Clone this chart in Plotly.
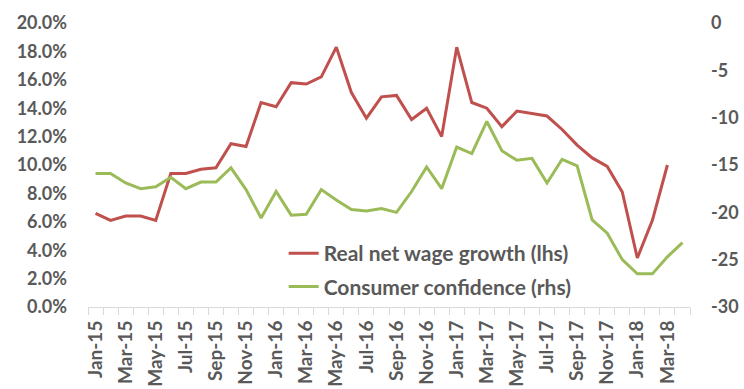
import plotly.graph_objects as go

# Monthly series, Jan-15 .. Apr-18
months = [f"{m}-{y}" for y in ("15", "16", "17", "18")
          for m in ("Jan", "Feb", "Mar", "Apr", "May", "Jun",
                    "Jul", "Aug", "Sep", "Oct", "Nov", "Dec")][:40]

# Real net wage growth, % y/y (left axis)
wage_growth = [6.6, 6.1, 6.4, 6.4, 6.1, 9.4, 9.4, 9.7, 9.8, 11.5,
               11.3, 14.4, 14.1, 15.8, 15.7, 16.2, 18.3, 15.1, 13.3, 14.8,
               14.9, 13.2, 14.0, 12.0, 18.3, 14.4, 14.0, 12.7, 13.8, 13.6,
               13.45, 12.5, 11.4, 10.5, 9.9, 8.1, 3.45, 6.1, 10.0, None]

# Consumer confidence index (right axis)
consumer_conf = [-15.9, -15.9, -16.9, -17.5, -17.3, -16.3, -17.5, -16.8, -16.8, -15.3,
                 -17.6, -20.6, -17.8, -20.3, -20.2, -17.6, -18.7, -19.7, -19.85, -19.6,
                 -20.0, -17.8, -15.2, -17.5, -13.1, -13.8, -10.4, -13.5, -14.5, -14.3,
                 -16.9, -14.4, -15.1, -20.8, -22.2, -25.0, -26.5, -26.5, -24.7, -23.2]

left_ticks = [0, 2, 4, 6, 8, 10, 12, 14, 16, 18, 20]
right_ticks = [0, -5, -10, -15, -20, -25, -30]

idx = list(range(len(months)))
font_color = "#595959"
family = "Lato, Arial, sans-serif"
y_font = dict(family=family, size=18, color=font_color, weight="bold")
x_font = dict(family=family, size=19, color=font_color, weight="bold")

fig = go.Figure()
fig.add_trace(go.Scatter(
    x=idx, y=[v / 100 if v is not None else None for v in wage_growth],
    mode="lines", name="Real net wage growth (lhs)", legendgroup="a",
    line=dict(color="#C0504D", width=3), yaxis="y"))
fig.add_trace(go.Scatter(
    x=idx, y=consumer_conf,
    mode="lines", name="Consumer confidence (rhs)", legendgroup="b",
    line=dict(color="#9BBB59", width=3), yaxis="y2"))

fig.update_layout(
    width=744, height=389,
    margin=dict(l=88, r=54, t=23, b=82),
    paper_bgcolor="white", plot_bgcolor="white",
    showlegend=True,
    legend=dict(x=0.325, y=0.13, xanchor="left", yanchor="middle",
                bgcolor="rgba(0,0,0,0)", tracegroupgap=3, traceorder="grouped",
                font=dict(family=family, size=21, color=font_color, weight="bold")),
    xaxis=dict(
        range=[-0.5, len(months) - 0.5], automargin=False,
        tickmode="array", tickvals=idx[::2], ticktext=months[::2],
        tickangle=-90, ticks="", tickfont=x_font, ticklabelstandoff=5,
        showline=True, linecolor="#D9D9D9", linewidth=1,
        showgrid=False, zeroline=False,
        minor=dict(tickmode="linear", tick0=-0.5, dtick=1, ticks="outside",
                   ticklen=7, tickcolor="#D9D9D9", showgrid=False),
    ),
    yaxis=dict(
        range=[0, 0.2], tickmode="array", automargin=False,
        tickvals=[t / 100 for t in left_ticks],
        ticktext=[f"{t:.1f}%" for t in left_ticks],
        tickfont=y_font, showgrid=False, zeroline=False,
        showline=False, ticks="", ticklabelstandoff=20,
    ),
    yaxis2=dict(
        range=[-30, 0], overlaying="y", side="right", tickmode="array",
        automargin=False,
        tickvals=right_ticks, ticktext=[str(t) for t in right_ticks],
        tickfont=y_font, showgrid=False, zeroline=False,
        showline=False, ticks="", ticklabelstandoff=20,
    ),
)

fig.write_html("out.html")
